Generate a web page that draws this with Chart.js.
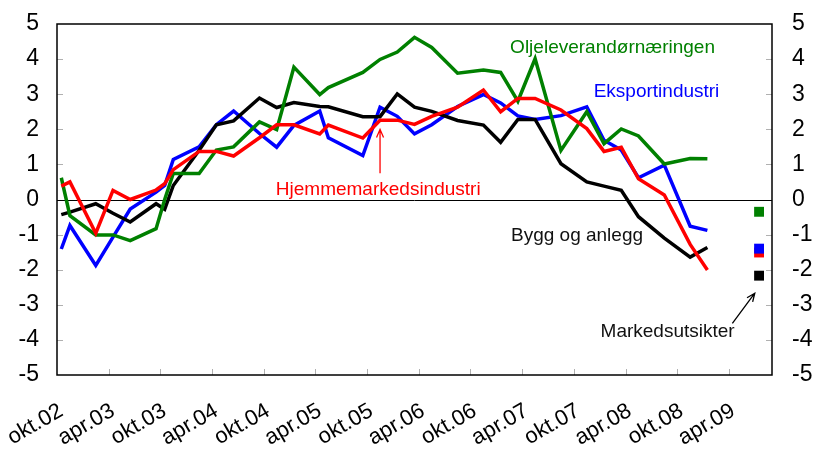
<!DOCTYPE html>
<html>
<head>
<meta charset="utf-8">
<script src="https://cdn.jsdelivr.net/npm/chart.js@4/dist/chart.umd.min.js"></script>
<style>
	html, body { margin: 0; padding: 0; background: #fff; }
	#wrap { width: 818px; height: 450px; }
</style>
</head>
<body>
<div id="wrap"><canvas id="c" width="818" height="450"></canvas></div>
<script>

// months counted from okt.02 (0 = okt.02)
const months = [ 0, 1, 4, 6, 8, 11, 12, 13, 16, 18, 20, 23, 25, 27, 30, 31, 35, 37, 39, 41, 43, 46, 49, 51, 53, 55, 58, 61, 63, 65, 67, 70, 73, 75 ];

const olje    = [ 0.62, -0.46, -1.01, -1.01, -1.17, -0.83, 0.00, 0.74, 0.74, 1.41, 1.50, 2.21, 1.99, 3.77, 2.99, 3.19, 3.62, 3.99, 4.20, 4.62, 4.33, 3.60, 3.69, 3.62, 2.80, 4.01, 1.40, 2.50, 1.59, 2.01, 1.81, 1.01, 1.17, 1.16 ];
const hjemme  = [ 0.38, 0.50, -0.96, 0.26, 0.00, 0.27, 0.45, 0.85, 1.37, 1.37, 1.24, 1.76, 2.13, 2.13, 1.87, 2.12, 1.75, 2.26, 2.26, 2.14, 2.37, 2.63, 3.12, 2.50, 2.88, 2.88, 2.55, 2.02, 1.37, 1.49, 0.59, 0.13, -1.28, -2.01 ];
const eksport = [ -1.41, -0.74, -1.88, -1.07, -0.27, 0.21, 0.40, 1.14, 1.50, 2.13, 2.52, 1.88, 1.49, 2.11, 2.52, 1.76, 1.25, 2.63, 2.37, 1.87, 2.13, 2.65, 2.99, 2.75, 2.38, 2.28, 2.39, 2.64, 1.69, 1.41, 0.62, 0.98, -0.76, -0.88 ];
const bygg    = [ -0.43, -0.36, -0.12, -0.39, -0.64, -0.12, -0.28, 0.40, 1.40, 2.13, 2.24, 2.89, 2.62, 2.76, 2.65, 2.64, 2.36, 2.36, 3.01, 2.63, 2.51, 2.25, 2.12, 1.63, 2.28, 2.28, 1.02, 0.50, 0.38, 0.26, -0.49, -1.10, -1.64, -1.37 ];

// Markedsutsikter (olje, eksport, hjemme, bygg)
const outlookMonth = 81;
const outlook = [ -0.35, -1.40, -1.51, -2.17 ];

const tickLabels = [ 'okt.02', 'apr.03', 'okt.03', 'apr.04', 'okt.04', 'apr.05', 'okt.05', 'apr.06', 'okt.06', 'apr.07', 'okt.07', 'apr.08', 'okt.08', 'apr.09' ];
const nMonths = 83;

const GREEN = '#008000', BLUE = '#0000ff', RED = '#ff0000', BLACK = '#000000';
const FONT = "'Liberation Sans', Arial, sans-serif";

const pts = vals => months.map( ( m, i ) => ( { x: m, y: vals[i] } ) );
const sq = ( v, color, order ) => ( {
	data: [ { x: outlookMonth, y: v } ],
	showLine: false, pointStyle: 'rect', pointRadius: 7, pointHoverRadius: 7,
	backgroundColor: color, borderWidth: 0, order: order
} );
const line = ( vals, color, order ) => ( {
	data: pts( vals ), borderColor: color, borderWidth: 3.5, pointRadius: 0,
	fill: false, tension: 0, order: order
} );

const labels = [
	{ text: 'Oljeleverandørnæringen', color: GREEN, x: 52.1, y: 4.17 },
	{ text: 'Eksportindustri', color: BLUE, x: 61.8, y: 2.91 },
	{ text: 'Hjemmemarkedsindustri', color: RED, x: 24.9, y: 0.13 },
	{ text: 'Bygg og anlegg', color: '#111', x: 52.2, y: -1.17 },
	{ text: 'Markedsutsikter', color: '#111', x: 62.6, y: -3.93 }
];
const arrows = [
	{ color: RED, from: [ 37.0, 0.75 ], to: [ 37.0, 2.0 ] },
	{ color: BLACK, from: [ 77.9, -3.53 ], to: [ 80.5, -2.67 ] }
];

const frame = {
	id: 'frame',
	beforeDatasetsDraw( chart ) {
		const { ctx, chartArea: a, scales: { x, y } } = chart;
		ctx.save();
		// small inner ticks
		ctx.strokeStyle = '#b0b0b0';
		ctx.lineWidth = 1;
		ctx.beginPath();
		for ( let v = -4; v <= 4; v++ ) {
			const py = Math.round( y.getPixelForValue( v ) ) + 0.5;
			ctx.moveTo( a.left, py ); ctx.lineTo( a.left + 6, py );
			ctx.moveTo( a.right - 6, py ); ctx.lineTo( a.right, py );
		}
		for ( let i = 1; i < tickLabels.length; i++ ) {
			const px = Math.round( x.getPixelForValue( i * 6 - 0.5 ) ) + 0.5;
			ctx.moveTo( px, a.bottom ); ctx.lineTo( px, a.bottom - 6 );
		}
		ctx.stroke();
		// zero line
		ctx.strokeStyle = BLACK;
		ctx.beginPath();
		const y0 = Math.round( y.getPixelForValue( 0 ) ) + 0.5;
		ctx.moveTo( a.left, y0 ); ctx.lineTo( a.right, y0 );
		ctx.stroke();
		// border
		ctx.lineWidth = 1.5;
		ctx.strokeRect( a.left, a.top, a.right - a.left, a.bottom - a.top );
		ctx.restore();
	},
	afterDatasetsDraw( chart ) {
		const { ctx, scales: { x, y } } = chart;
		ctx.save();
		ctx.font = `19px ${ FONT }`;
		ctx.textAlign = 'left';
		ctx.textBaseline = 'alphabetic';
		labels.forEach( l => {
			ctx.fillStyle = l.color;
			ctx.fillText( l.text, x.getPixelForValue( l.x ), y.getPixelForValue( l.y ) );
		} );
		ctx.lineWidth = 1.3;
		arrows.forEach( ar => {
			const x1 = x.getPixelForValue( ar.from[0] ), y1 = y.getPixelForValue( ar.from[1] );
			const x2 = x.getPixelForValue( ar.to[0] ), y2 = y.getPixelForValue( ar.to[1] );
			const ang = Math.atan2( y2 - y1, x2 - x1 ), h = 9;
			ctx.strokeStyle = ar.color;
			ctx.beginPath();
			ctx.moveTo( x1, y1 ); ctx.lineTo( x2, y2 );
			ctx.moveTo( x2 - h * Math.cos( ang - 0.4 ), y2 - h * Math.sin( ang - 0.4 ) );
			ctx.lineTo( x2, y2 );
			ctx.lineTo( x2 - h * Math.cos( ang + 0.4 ), y2 - h * Math.sin( ang + 0.4 ) );
			ctx.stroke();
		} );
		ctx.restore();
	}
};

const yAxis = ( pos, width, pad ) => ( {
	type: 'linear', position: pos, min: -5, max: 5,
	grid: { display: false, drawTicks: false },
	border: { display: false },
	ticks: { stepSize: 1, color: BLACK, padding: pad, font: { family: FONT, size: 23 } },
	afterFit( s ) { s.width = width; s.paddingTop = 0; s.paddingBottom = 0; }
} );

new Chart( 'c', {
	type: 'line',
	data: {
		datasets: [
			sq( outlook[0], GREEN, 0 ),
			sq( outlook[1], BLUE, 0 ),
			sq( outlook[2], RED, 1 ),
			sq( outlook[3], BLACK, 0 ),
			line( hjemme, RED, 2 ),
			line( olje, GREEN, 3 ),
			line( bygg, BLACK, 4 ),
			line( eksport, BLUE, 5 )
		]
	},
	options: {
		responsive: false,
		animation: false,
		devicePixelRatio: 1,
		layout: { padding: { top: 24, left: 0, right: 0, bottom: 0 } },
		plugins: { legend: { display: false }, tooltip: { enabled: false } },
		scales: {
			x: {
				type: 'linear', min: -0.5, max: nMonths - 0.5,
				grid: { display: false, drawTicks: false },
				border: { display: false },
				// label anchors sit a little right of the tick marks, as in the original
				afterBuildTicks( s ) { s.ticks = tickLabels.map( ( l, i ) => ( { value: i * 6 - 0.5 + 0.5 } ) ); },
				ticks: {
					autoSkip: false, maxRotation: 30, minRotation: 30, padding: 23, color: BLACK,
					font: { family: FONT, size: 22 },
					callback: ( v, i ) => tickLabels[i]
				},
				afterFit( s ) { s.height = 75; s.paddingLeft = 0; s.paddingRight = 0; }
			},
			y: yAxis( 'left', 57, 18 ),
			y2: yAxis( 'right', 46, 20 )
		}
	},
	plugins: [ frame ]
} );

</script>
</body>
</html>
